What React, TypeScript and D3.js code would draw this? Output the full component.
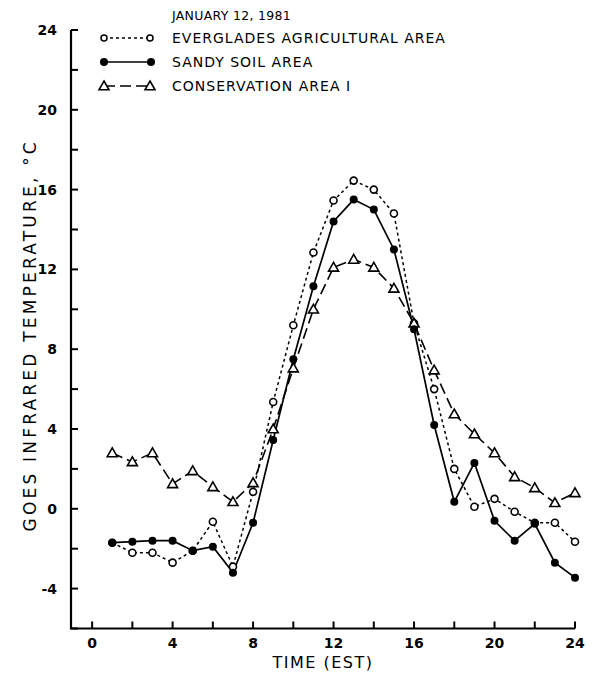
import React from "react";
import * as d3 from "d3";

const hours = [1, 2, 3, 4, 5, 6, 7, 8, 9, 10, 11, 12, 13, 14, 15, 16, 17, 18, 19, 20, 21, 22, 23, 24];
const everglades = [-1.7, -2.2, -2.2, -2.7, -2.1, -0.65, -2.9, 0.85, 5.35, 9.2, 12.85, 15.45, 16.45, 16.0, 14.8, 9.3, 6.0, 2.0, 0.1, 0.5, -0.15, -0.7, -0.7, -1.65];
const sandy = [-1.7, -1.65, -1.6, -1.6, -2.1, -1.9, -3.2, -0.7, 3.45, 7.5, 11.15, 14.4, 15.5, 15.0, 13.0, 9.0, 4.2, 0.35, 2.3, -0.6, -1.6, -0.75, -2.7, -3.45];
const conservation = [2.8, 2.35, 2.8, 1.25, 1.9, 1.1, 0.35, 1.3, 4.0, 7.05, 10.0, 12.1, 12.5, 12.1, 11.05, 9.3, 6.95, 4.75, 3.75, 2.8, 1.6, 1.05, 0.3, 0.8];
const xTickLabels = [0, 4, 8, 12, 16, 20, 24];
const yTickLabels = [-4, 0, 4, 8, 12, 16, 20, 24];
const seriesNames = ["EVERGLADES AGRICULTURAL AREA", "SANDY SOIL AREA", "CONSERVATION AREA I"];

const font = "'DejaVu Sans', sans-serif";

function Triangle({ x, y, s = 5 }: { x: number; y: number; s?: number }) {
  return (
    <path
      d={`M${x},${y - s}L${x + s},${y + s * 0.75}L${x - s},${y + s * 0.75}Z`}
      fill="#fff"
      stroke="#000"
      strokeWidth={1.6}
    />
  );
}

export default function App() {
  const width = 597;
  const height = 673;
  const x = d3.scaleLinear().domain([-1.05, 24]).range([71, 575]);
  const y = d3.scaleLinear().domain([-6, 24]).range([628.5, 30]);

  const line = (vals: number[]) =>
    d3
      .line<number>()
      .x((_, i) => x(hours[i]))
      .y((v) => y(v))(vals) as string;

  const xTicks = d3.range(0, 25, 2);
  const yTicks = d3.range(-6, 25, 2);

  return (
    <svg width={width} height={height} style={{ display: "block", position: "absolute", left: 0, top: 0 }}>
      <rect width={width} height={height} fill="#fff" />
      {/* axes */}
      <path d={`M${x(-1.05)},${y(24)}V${y(-6)}H${x(24)}`} fill="none" stroke="#000" strokeWidth={2.2} />
      {yTicks.map((t) => (
        <line key={"yt" + t} x1={71} x2={78} y1={y(t)} y2={y(t)} stroke="#000" strokeWidth={2} />
      ))}
      {xTicks.map((t) => (
        <line key={"xt" + t} x1={x(t)} x2={x(t)} y1={y(-6)} y2={y(-6) - 7} stroke="#000" strokeWidth={2} />
      ))}
      {yTickLabels.map((t) => (
        <text key={"yl" + t} x={57} y={y(t) + 5} textAnchor="end" fontFamily={font} fontSize={14} fontWeight="bold">
          {t < 0 ? "-" + Math.abs(t) : t}
        </text>
      ))}
      {xTickLabels.map((t) => (
        <text key={"xl" + t} x={x(t)} y={648} textAnchor="middle" fontFamily={font} fontSize={14} fontWeight="bold">
          {t}
        </text>
      ))}
      <text x={323} y={668} textAnchor="middle" fontFamily={font} fontSize={16} letterSpacing={1.5}>
        TIME (EST)
      </text>
      <text
        transform={`translate(36,${(y(24) + y(-6)) / 2 + 6}) rotate(-90)`}
        textAnchor="middle"
        fontFamily={font}
        fontSize={17}
        letterSpacing={3.2}
      >
        GOES INFRARED TEMPERATURE, °C
      </text>

      {/* series */}
      <path d={line(everglades)} fill="none" stroke="#000" strokeWidth={1.5} strokeDasharray="3,3" />
      <path d={line(conservation)} fill="none" stroke="#000" strokeWidth={1.6} strokeDasharray="11,5" />
      <path d={line(sandy)} fill="none" stroke="#000" strokeWidth={1.7} />
      {everglades.map((v, i) => (
        <circle key={"e" + i} cx={x(hours[i])} cy={y(v)} r={3.5} fill="#fff" stroke="#000" strokeWidth={1.6} />
      ))}
      {conservation.map((v, i) => (
        <Triangle key={"c" + i} x={x(hours[i])} y={y(v)} />
      ))}
      {sandy.map((v, i) => (
        <circle key={"s" + i} cx={x(hours[i])} cy={y(v)} r={4} fill="#000" />
      ))}

      {/* legend */}
      <text x={172} y={20} fontFamily={font} fontSize={12.5} letterSpacing={0.3}>
        JANUARY 12, 1981
      </text>
      <line x1={104} x2={150} y1={38} y2={38} stroke="#000" strokeWidth={1.5} strokeDasharray="3,3" />
      <circle cx={104} cy={38} r={3} fill="#fff" stroke="#000" strokeWidth={1.5} />
      <circle cx={150} cy={38} r={3} fill="#fff" stroke="#000" strokeWidth={1.5} />
      <line x1={104} x2={151} y1={62} y2={62} stroke="#000" strokeWidth={1.7} />
      <circle cx={104} cy={62} r={4} fill="#000" />
      <circle cx={151} cy={62} r={4} fill="#000" />
      <line x1={104} x2={150} y1={86} y2={86} stroke="#000" strokeWidth={1.6} strokeDasharray="11,5" />
      <Triangle x={104} y={86} />
      <Triangle x={150} y={86} />
      {seriesNames.map((n, i) => (
        <text key={n} x={172} y={43 + i * 24} fontFamily={font} fontSize={14} letterSpacing={1.0}>
          {n}
        </text>
      ))}
    </svg>
  );
}
